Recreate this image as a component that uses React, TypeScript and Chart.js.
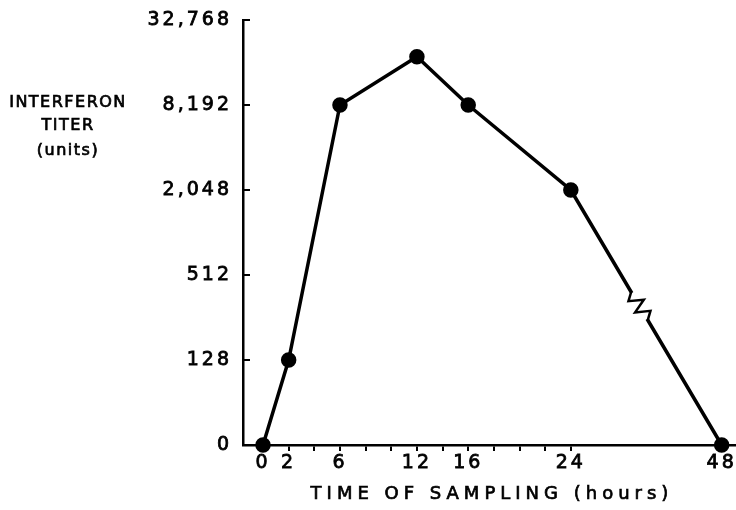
import React, { useEffect, useRef } from "react";
import { Chart, registerables } from "chart.js";

Chart.register(...registerables);

// ---- data ----
const hours = [0, 2, 6, 12, 16, 24, 48];
const titer = [0, 128, 8192, 18000, 8192, 2048, 0];
const yTickTiters = [0, 128, 512, 2048, 8192, 32768];
const yTickLabels = ["0", "128", "512", "2,048", "8,192", "32,768"];
const xLabelHours = [0, 2, 6, 12, 16, 24, 48];
const xTickHours = [0, 2, 4, 6, 8, 10, 12, 14, 16, 18, 20, 22, 24, 48];
const yTitleLines = ["INTERFERON", "TITER", "(units)"];
const xTitle = "TIME OF SAMPLING (hours)";

// ---- axis transforms (broken time axis after 24 h, 4-fold titer axis) ----
const BREAK_HOUR = 24;
const BREAK_RATIO = 0.49;
const hourToPos = (h: number) => (h <= BREAK_HOUR ? h : BREAK_HOUR + (h - BREAK_HOUR) * BREAK_RATIO);
const titerToPos = (v: number) => (v <= 32 ? 0 : Math.log(v / 32) / Math.log(4));

const FONT = "'DejaVu Sans', sans-serif";
const TICK_SPACING = "3px";

const spacingPlugin = {
  id: "spacing",
  beforeLayout(chart: any) {
    chart.ctx.letterSpacing = TICK_SPACING;
  },
  beforeDraw(chart: any) {
    chart.ctx.letterSpacing = TICK_SPACING;
  },
};

const decorPlugin = {
  id: "decor",
  afterDatasetsDraw(chart: any) {
    const ctx = chart.ctx;
    const meta = chart.getDatasetMeta(0);
    const a = meta.data[5];
    const b = meta.data[6];
    if (a && b) {
      const dx = b.x - a.x;
      const dy = b.y - a.y;
      const len = Math.hypot(dx, dy);
      const ux = dx / len, uy = dy / len;
      const nx = -uy, ny = ux;
      const f1 = 0.4, f2 = 0.51;
      const P = (f: number, off: number) => [a.x + dx * f + nx * off, a.y + dy * f + ny * off];
      ctx.save();
      ctx.strokeStyle = "#fff";
      ctx.lineWidth = 8;
      ctx.beginPath();
      const s = P(f1 + 0.004, 0), e = P(f2 - 0.004, 0);
      ctx.moveTo(s[0], s[1]);
      ctx.lineTo(e[0], e[1]);
      ctx.stroke();
      ctx.strokeStyle = "#000";
      ctx.lineWidth = 2.5;
      ctx.lineJoin = "miter";
      ctx.beginPath();
      const steps = [
        [0, 0], [0.2, 7], [0.4, -7], [0.6, 7], [0.8, -7], [1, 0],
      ];
      steps.forEach(([t, off], i) => {
        const p = P(f1 + (f2 - f1) * t, off);
        if (i === 0) ctx.moveTo(p[0], p[1]);
        else ctx.lineTo(p[0], p[1]);
      });
      ctx.stroke();
      ctx.restore();
    }
  },
  afterDraw(chart: any) {
    const ctx = chart.ctx;
    const y = chart.scales.y;
    ctx.save();
    // inward y tick marks
    ctx.strokeStyle = "#000";
    ctx.lineWidth = 2;
    y.ticks.forEach((t: any) => {
      const py = y.getPixelForValue(t.value);
      ctx.beginPath();
      ctx.moveTo(y.right - 1, py);
      ctx.lineTo(y.right + 7, py);
      ctx.stroke();
    });
    // titles
    ctx.fillStyle = "#000";
    ctx.strokeStyle = "#000";
    ctx.lineWidth = 0.7;
    ctx.textAlign = "center";
    ctx.textBaseline = "middle";
    ctx.font = `16px ${FONT}`;
    ctx.letterSpacing = "1.5px";
    const yLines = [103, 126, 151];
    yTitleLines.forEach((s, i) => {
      ctx.strokeText(s, 68, yLines[i]);
      ctx.fillText(s, 68, yLines[i]);
    });
    ctx.font = `18px ${FONT}`;
    ctx.letterSpacing = "5px";
    const xa = chart.chartArea;
    const tx = (xa.left + xa.right) / 2 + 3;
    ctx.strokeText(xTitle, tx, 494);
    ctx.fillText(xTitle, tx, 494);
    ctx.restore();
  },
};

export default function App() {
  const ref = useRef<HTMLCanvasElement | null>(null);
  useEffect(() => {
    if (!ref.current) return;
    const points = hours.map((h, i) => ({ x: hourToPos(h), y: titerToPos(titer[i]) }));
    const chart = new Chart(ref.current, {
      type: "scatter",
      data: {
        datasets: [
          {
            data: points,
            showLine: true,
            borderColor: "#000",
            backgroundColor: "#000",
            borderWidth: 3.5,
            pointRadius: 6,
            pointHoverRadius: 6,
            tension: 0,
            clip: false,
          },
        ],
      },
      options: {
        animation: false,
        responsive: true,
        maintainAspectRatio: false,
        layout: { autoPadding: false, padding: { top: 20, right: 1, left: 0, bottom: 0 } },
        plugins: { legend: { display: false }, tooltip: { enabled: false } },
        scales: {
          x: {
            type: "linear",
            min: -1.56,
            max: 36.8,
            afterBuildTicks: (scale: any) => {
              scale.ticks = xTickHours.map((h) => ({ value: hourToPos(h) }));
            },
            afterFit: (scale: any) => {
              scale.height = 65;
              scale.paddingLeft = 0;
              scale.paddingRight = 0;
            },
            ticks: {
              autoSkip: false,
              maxRotation: 0,
              color: "#000",
              padding: 1,
              textStrokeColor: "#000",
              textStrokeWidth: 0.8,
              font: { family: FONT, size: 19 },
              callback: (value: any) => {
                const h = xTickHours.find((hh) => Math.abs(hourToPos(hh) - value) < 1e-6);
                return h !== undefined && xLabelHours.includes(h) ? String(h) : "";
              },
            },
            grid: { drawOnChartArea: false, drawTicks: true, tickLength: 6, color: "#000", lineWidth: 2 },
            border: { color: "#000", width: 2.5 },
          },
          y: {
            type: "linear",
            min: 0,
            max: 5,
            afterBuildTicks: (scale: any) => {
              scale.ticks = yTickTiters.map((v) => ({ value: titerToPos(v) }));
            },
            afterFit: (scale: any) => {
              scale.width = 243;
              scale.paddingTop = 0;
              scale.paddingBottom = 0;
            },
            ticks: {
              color: "#000",
              padding: 3,
              textStrokeColor: "#000",
              textStrokeWidth: 0.8,
              font: { family: FONT, size: 19 },
              callback: (_v: any, i: number) => yTickLabels[i],
            },
            grid: { display: false },
            border: { color: "#000", width: 2.5 },
          },
        },
      },
      plugins: [spacingPlugin, decorPlugin],
    });
    return () => chart.destroy();
  }, []);
  return (
    <div style={{ position: "absolute", left: 0, top: 0, width: 736, height: 510, background: "#fff" }}>
      <canvas ref={ref} />
    </div>
  );
}
